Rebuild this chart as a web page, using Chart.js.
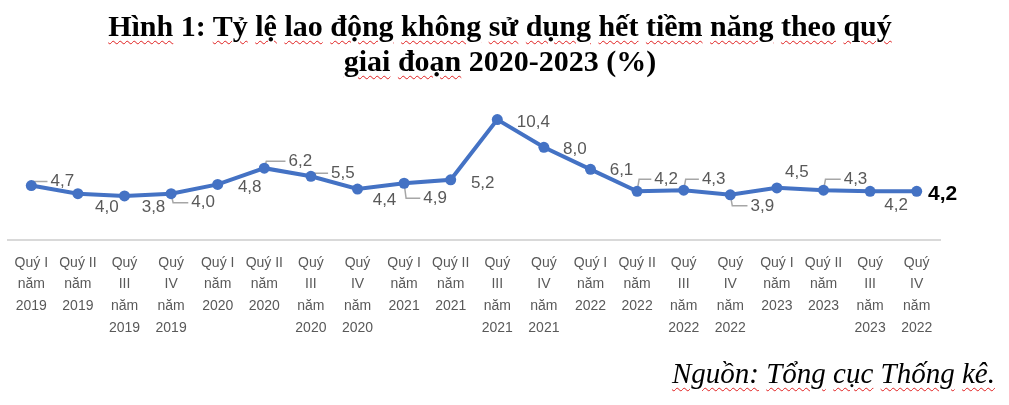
<!DOCTYPE html>
<html>
<head>
<meta charset="utf-8">
<script src="https://cdn.jsdelivr.net/npm/chart.js@4.4.0/dist/chart.umd.min.js"></script>
<style>
  html, body { margin: 0; padding: 0; background: #fff; }
  #wrap { position: relative; width: 1009px; height: 405px; overflow: hidden; }
  #chartCanvas { position: absolute; left: 0; top: 0; }
  .title {
    position: absolute; left: 0; top: 8px; width: 1000px; text-align: center;
    font-family: "Liberation Serif", serif; font-weight: bold; font-size: 30px;
    line-height: 35px; color: #000;
  }
  .source {
    position: absolute; right: 14px; top: 357px; line-height: 33px;
    font-family: "Liberation Serif", serif; font-style: italic; font-size: 29px; color: #000;
  }
  .sp { text-decoration: underline wavy #e02020; text-decoration-thickness: 1px; text-underline-offset: 4px; }
</style>
</head>
<body>
<div id="wrap">
  <canvas id="chartCanvas" width="1009" height="405"></canvas>
  <div class="title">
    <span class="sp">Hình</span> 1: <span class="sp">Tỷ</span> <span class="sp">lệ</span> <span class="sp">lao</span> <span class="sp">động</span> <span class="sp">không</span> <span class="sp">sử</span> <span class="sp">dụng</span> <span class="sp">hết</span> <span class="sp">tiềm</span> <span class="sp">năng</span> <span class="sp">theo</span> <span class="sp">quý</span><br>
    <span class="sp">giai</span> <span class="sp">đoạn</span> 2020-2023 (%)
  </div>
  <div class="source"><span class="sp">Nguồn:</span> <span class="sp">Tổng</span> <span class="sp">cục</span> <span class="sp">Thống</span> <span class="sp">kê.</span></div>
</div>
<script>
// data
var quarters = ['I', 'II', 'III', 'IV', 'I', 'II', 'III', 'IV', 'I', 'II', 'III', 'IV', 'I', 'II', 'III', 'IV', 'I', 'II', 'III', 'IV'];
var years = ['2019', '2019', '2019', '2019', '2020', '2020', '2020', '2020', '2021', '2021', '2021', '2021', '2022', '2022', '2022', '2022', '2023', '2023', '2023', '2022'];
var rates = [4.7, 4.0, 3.8, 4.0, 4.8, 6.2, 5.5, 4.4, 4.9, 5.2, 10.4, 8.0, 6.1, 4.2, 4.3, 3.9, 4.5, 4.3, 4.2, 4.2];

// where each data label sits relative to its point (dx, dy of label centre, leader line)
var labelPlacement = [
  [31, -4, true], [29, 14, false], [29, 11, false], [32, 9, true], [32, 3, false],
  [36, -7, true], [32, -3, true], [27, 11, false], [31, 15, true], [32, 4, false],
  [36, 3, false], [31, 2, false], [31, 1, false], [29, -12, true], [30, -11, true],
  [32, 11, true], [20, -16, false], [32, -11, true], [26, 14, false], [26, 3, false]
];

var labels = quarters.map(function(q, i) {
    if (q === 'III' || q === 'IV') return ['Quý', q, 'năm', years[i]];
    return ['Quý ' + q, 'năm', years[i]];
});

function fmt(v) {
    return v.toFixed(1).replace('.', ',');
}

var dataLabels = {
    id: 'dataLabels',
    beforeDatasetsDraw: function(chart) {
        var c = chart.ctx;
        var pts = chart.getDatasetMeta(0).data;
        c.save();
        c.font = '17px "Liberation Sans"';
        c.strokeStyle = '#a6a6a6';
        c.lineWidth = 1.5;
        pts.forEach(function(p, i) {
            var pl = labelPlacement[i];
            if (!pl[2]) return;
            var w = c.measureText(fmt(rates[i])).width;
            var lx = p.x + pl[0] - w / 2 - 3;
            var ly = p.y + pl[1];
            c.beginPath();
            c.moveTo(p.x, p.y);
            c.lineTo(p.x + 2, ly);
            c.lineTo(lx, ly);
            c.stroke();
        });
        c.restore();
    },
    afterDatasetsDraw: function(chart) {
        var c = chart.ctx;
        var pts = chart.getDatasetMeta(0).data;
        c.save();
        c.textAlign = 'center';
        c.textBaseline = 'middle';
        pts.forEach(function(p, i) {
            var pl = labelPlacement[i];
            if (i === pts.length - 1) {
                c.font = 'bold 21px "Liberation Sans"';
                c.fillStyle = '#000';
            } else {
                c.font = '17px "Liberation Sans"';
                c.fillStyle = '#595959';
            }
            c.fillText(fmt(rates[i]), p.x + pl[0], p.y + pl[1]);
        });
        c.restore();
    }
};

var ctx = document.getElementById('chartCanvas');
var myChart = new Chart(ctx, {
    type: 'line',
    data: {
        labels: labels,
        datasets: [{
            label: 'Tỷ lệ',
            data: rates,
            borderColor: '#4472C4',
            backgroundColor: '#4472C4',
            borderWidth: 4,
            pointRadius: 5.5,
            pointBorderWidth: 0,
            pointBackgroundColor: '#4472C4',
            tension: 0,
            clip: false
        }]
    },
    options: {
        responsive: false,
        animation: false,
        layout: { padding: { left: 8, right: 69, top: 101, bottom: 0 } },
        scales: {
            x: {
                offset: true,
                grid: { display: false, drawTicks: false, tickLength: 0 },
                border: { display: true, color: '#d9d9d9', width: 2 },
                ticks: {
                    autoSkip: false,
                    maxRotation: 0,
                    padding: 12,
                    color: '#595959',
                    font: { family: '"Liberation Sans"', size: 14, lineHeight: 1.55 }
                },
                afterFit: function(s) { s.height = 165; }
            },
            y: {
                display: false,
                min: 0,
                max: 12
            }
        },
        plugins: {
            legend: { display: false },
            tooltip: { enabled: false }
        }
    },
    plugins: [dataLabels]
});
</script>
</body>
</html>
